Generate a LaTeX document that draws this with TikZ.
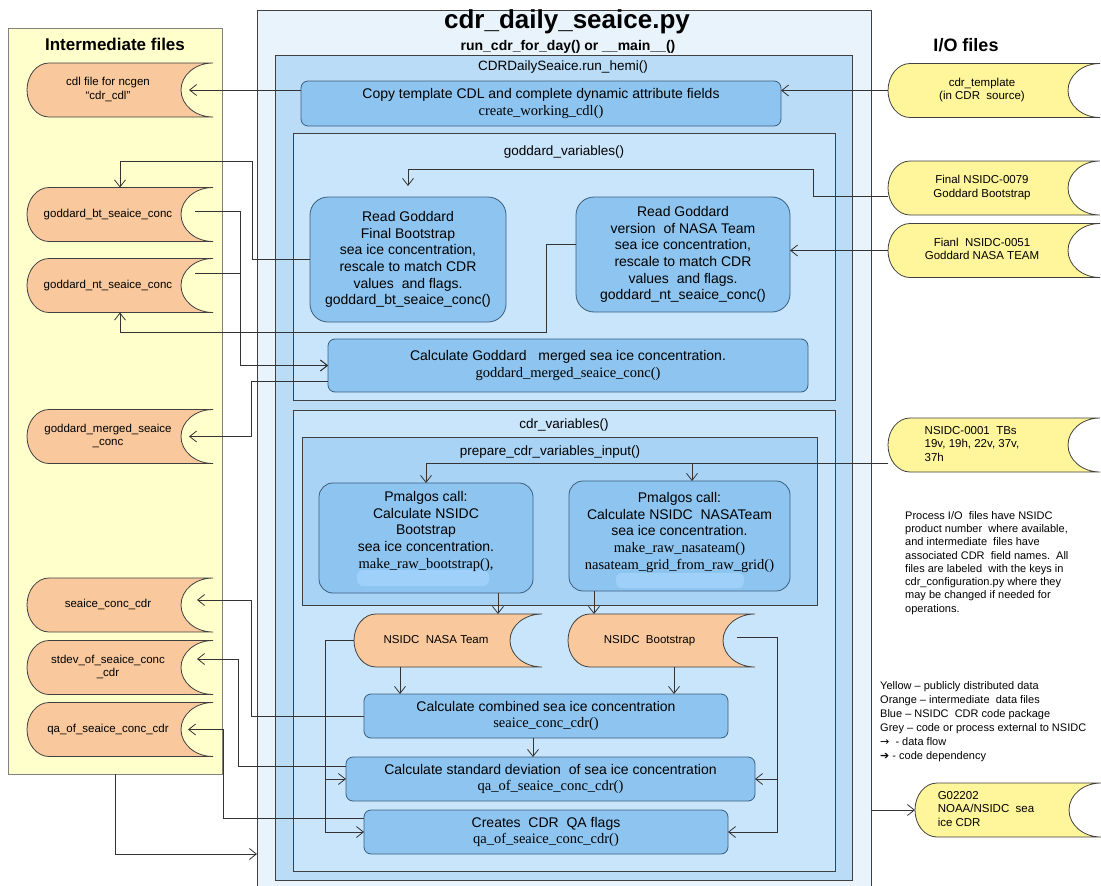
\documentclass[tikz,border=0pt]{standalone}
\usepackage{fontspec}
\setmainfont{Liberation Sans}
\newfontfamily\codefont{Liberation Serif}
\newfontfamily\symfont{DejaVu Sans}
\usetikzlibrary{arrows.meta}

\definecolor{outerblue}{HTML}{E8F3FB}
\definecolor{hemiblue}{HTML}{BADCF6}
\definecolor{groupblue}{HTML}{C9E5FB}
\definecolor{prepblue}{HTML}{A9D3F5}
\definecolor{procblue}{HTML}{8DC5F0}
\definecolor{procedge}{HTML}{3B5E7E}
\definecolor{barblue}{HTML}{9ED0FA}
\definecolor{orangefill}{HTML}{F9C99D}
\definecolor{yellowfill}{HTML}{FFF69C}
\definecolor{interfill}{HTML}{FFFFCC}
\definecolor{linegrey}{HTML}{333333}

\makeatletter
\pgfdeclareshape{storeddata}{
  \inheritsavedanchors[from=rectangle]
  \inheritanchorborder[from=rectangle]
  \inheritanchor[from=rectangle]{center}
  \inheritanchor[from=rectangle]{north}
  \inheritanchor[from=rectangle]{south}
  \inheritanchor[from=rectangle]{east}
  \inheritanchor[from=rectangle]{west}
  \inheritanchor[from=rectangle]{north east}
  \inheritanchor[from=rectangle]{north west}
  \inheritanchor[from=rectangle]{south east}
  \inheritanchor[from=rectangle]{south west}
  \backgroundpath{
    \southwest \edef\sdxa{\the\pgf@x}\edef\sdya{\the\pgf@y}
    \northeast \edef\sdxb{\the\pgf@x}\edef\sdyb{\the\pgf@y}
    \pgfmathsetmacro\sdhh{(\sdyb-\sdya)/2}
    \pgfpathmoveto{\pgfpoint{\sdxb}{\sdyb}}
    \pgfpathlineto{\pgfpoint{\sdxa+22pt}{\sdyb}}
    \pgfpatharc{90}{270}{22pt and \sdhh pt}
    \pgfpathlineto{\pgfpoint{\sdxb}{\sdya}}
    \pgfpatharc{270}{90}{32pt and \sdhh pt}
    \pgfpathclose
  }
}
\makeatother

\newcommand{\fn}[1]{{\codefont\fontsize{14.5}{17}\selectfont #1}}
\newcommand{\dtext}[1]{\begin{tabular}{@{}c@{}}#1\end{tabular}\kern24pt}
\newcommand{\dtextl}[1]{\begin{tabular}{@{}l@{}}#1\end{tabular}\kern44pt}

\tikzset{
  flow/.style={draw=linegrey, line width=0.8pt, -{Straight Barb[length=7pt,width=11pt]}},
  frame/.style={draw=black!75, line width=0.8pt, anchor=north west, inner sep=0pt, outer sep=0pt},
  boxlabel/.style={font=\fontsize{13.5}{16}\selectfont, inner sep=1pt},
  proc/.style={draw=procedge, line width=0.8pt, fill=procblue, rounded corners=7pt, align=center,
    inner sep=2pt, outer sep=0pt, font=\fontsize{14}{16.7}\selectfont},
  bigproc/.style={proc, rounded corners=18pt},
  datafile/.style={shape=storeddata, draw=black!75, line width=0.8pt, fill=orangefill,
    minimum width=186, minimum height=54, inner sep=0pt, outer sep=0pt, font=\fontsize{11.5}{13.5}\selectfont},
  iofile/.style={datafile, fill=yellowfill, minimum width=212},
}

\begin{document}
\begin{tikzpicture}[x=1pt, y=-1pt]
  \useasboundingbox (0,0) rectangle (1101,886);
  \clip (0,0) rectangle (1101,886);

  % Riquadri
  \node[frame, fill=outerblue, minimum width=614, minimum height=890] (mainbox) at (257,10) {};
  \node[frame, fill=hemiblue, minimum width=577, minimum height=825] (hemi) at (275,55) {};
  \node[frame, fill=groupblue, minimum width=542, minimum height=267] (goddard) at (293,133) {};
  \node[frame, fill=groupblue, minimum width=542, minimum height=461] (cdrvars) at (293,410) {};
  \node[frame, fill=prepblue, minimum width=515, minimum height=168] (prep) at (302,437) {};
  \node[frame, draw=black!50, fill=interfill, minimum width=214, minimum height=746] (inter) at (8,28) {};

  % Titoli
  \node[font=\bfseries\fontsize{26}{28}\selectfont] (title) at (567,22) {cdr\_daily\_seaice.py};
  \node[font=\bfseries\fontsize{14}{16}\selectfont] (subtitle) at (568,47) {run\_cdr\_for\_day() or \_\_main\_\_()};
  \node[boxlabel] (hemilbl) at (563,67) {CDRDailySeaice.run\_hemi()};
  \node[boxlabel] (goddardlbl) at (564,152) {goddard\_variables()};
  \node[boxlabel] (cdrlbl) at (564,425) {cdr\_variables()};
  \node[boxlabel] (preplbl) at (550,452) {prepare\_cdr\_variables\_input()};
  \node[font=\bfseries\fontsize{17}{20}\selectfont] (interlbl) at (115,44) {Intermediate files};
  \node[font=\bfseries\fontsize{18}{20}\selectfont] (iolbl) at (966,45) {I/O files};

  % Processi
  \node[proc, minimum width=480, minimum height=45] (copy) at (541,103.5)
    {Copy template CDL and complete dynamic attribute fields\\\fn{create\_working\_cdl()}};
  \node[bigproc, minimum width=196, minimum height=125] (btread) at (408,259.5)
    {Read Goddard\\Final Bootstrap\\sea ice concentration,\\rescale to match CDR\\values\ \ and flags.\\goddard\_bt\_seaice\_conc()};
  \node[bigproc, minimum width=214, minimum height=115] (ntread) at (683,254.5)
    {Read Goddard\\version\ \ of NASA Team\\sea ice concentration,\\rescale to match CDR\\values\ \ and flags.\\goddard\_nt\_seaice\_conc()};
  \node[proc, minimum width=480, minimum height=53] (merged) at (568,365.5)
    {Calculate Goddard\ \ \ merged sea ice concentration.\\\fn{goddard\_merged\_seaice\_conc()}};
  \node[proc, rounded corners=14pt, minimum width=214, minimum height=110,
    path picture={\fill[barblue, rounded corners=6pt]
      ([xshift=-69pt,yshift=-32pt]path picture bounding box.center) rectangle
      ([xshift=63pt,yshift=-48pt]path picture bounding box.center);}] (pmbt) at (426,538)
    {Pmalgos call:\\Calculate NSIDC\\Bootstrap\\sea ice concentration.\\\fn{make\_raw\_bootstrap(),}\\\mbox{}};
  \node[proc, rounded corners=14pt, minimum width=221, minimum height=110,
    path picture={\fill[barblue, rounded corners=6pt]
      ([xshift=-63.5pt,yshift=-37pt]path picture bounding box.center) rectangle
      ([xshift=64.5pt,yshift=-52pt]path picture bounding box.center);}] (pmnt) at (679.5,536)
    {Pmalgos call:\\Calculate NSIDC\ \ NASATeam\\sea ice concentration.\\\fn{make\_raw\_nasateam()}\\\fn{nasateam\_grid\_from\_raw\_grid()}\\[-6pt]\mbox{}};
  \node[proc, minimum width=364, minimum height=44] (combined) at (546,716)
    {Calculate combined sea ice concentration\\\fn{seaice\_conc\_cdr()}};
  \node[proc, minimum width=409, minimum height=44] (stddev) at (550.5,779)
    {Calculate standard deviation\ \ of sea ice concentration\\\fn{qa\_of\_seaice\_conc\_cdr()}};
  \node[proc, minimum width=364, minimum height=44] (qaflags) at (546,832)
    {Creates\ \ CDR\ \ QA flags\\\fn{qa\_of\_seaice\_conc\_cdr()}};

  % File intermedi
  \node[datafile] (cdl) at (120,90) {\dtext{cdl file for ncgen\\“cdr\_cdl”}};
  \node[datafile] (gbt) at (120,214.5) {\dtext{goddard\_bt\_seaice\_conc}};
  \node[datafile] (gnt) at (120,285.5) {\dtext{goddard\_nt\_seaice\_conc}};
  \node[datafile] (gmerged) at (120,436.5) {\dtext{goddard\_merged\_seaice\\\_conc}};
  \node[datafile] (sccdr) at (120,605) {\dtext{seaice\_conc\_cdr}};
  \node[datafile] (stdev) at (120,667.5) {\dtext{stdev\_of\_seaice\_conc\\\_cdr}};
  \node[datafile] (qaof) at (120,729.5) {\dtext{qa\_of\_seaice\_conc\_cdr}};
  \node[datafile, minimum width=188, minimum height=53] (nsnt) at (448,640.5) {\dtext{NSIDC\ \ NASA Team}};
  \node[datafile, minimum width=187, minimum height=53] (nsbt) at (661.5,640.5) {\dtext{NSIDC\ \ Bootstrap}};

  % File I/O
  \node[iofile] (iotemplate) at (994,90.5) {\dtext{cdr\_template\\(in CDR\ \ source)}};
  \node[iofile] (io0079) at (994,188) {\dtext{Final NSIDC-0079\\Goddard Bootstrap}};
  \node[iofile] (io0051) at (994,250.5) {\dtext{Fianl\ \ NSIDC-0051\\Goddard NASA TEAM}};
  \node[iofile] (io0001) at (994,445) {\dtextl{NSIDC-0001\ \ TBs\\19v, 19h, 22v, 37v,\\37h}};
  \node[iofile, minimum width=186] (g02202) at (1008,810) {\dtextl{G02202\\NOAA/NSIDC\ \ sea\\ice CDR}};

  % Note e legenda
  \node[anchor=north west, align=left, inner sep=0pt, font=\fontsize{11}{13.3}\selectfont] (notes) at (905,511)
    {Process I/O\ \ files have NSIDC\\product number\ \ where available,\\and intermediate\ \ files have\\associated CDR\ \ field names.\ \ All\\files are labeled\ \ with the keys in\\cdr\_configuration.py where they\\may be changed if needed for\\operations.};
  \node[anchor=north west, align=left, inner sep=0pt, font=\fontsize{11}{14}\selectfont] (legend) at (880,681)
    {Yellow – publicly distributed data\\Orange – intermediate\ \ data files\\Blue – NSIDC\ \ CDR code package\\Grey – code or process external to NSIDC\\{\symfont →}\ \ - data flow\\{\symfont ➔} - code dependency};

  \coordinate (codein) at (257,854);

  % Frecce
  \draw[flow] (iotemplate.west) -- (iotemplate.west -| copy.east);
  \draw[flow] (cdl.center -| copy.west) -- ([xshift=-24pt]cdl.east);
  \draw[flow, shorten >=11pt] ([yshift=-8pt]io0079.west) -| (813,169) -| (btread.north);
  \draw[flow] (btread.west) -| (252,161) -| (gbt.north);
  \draw[flow] ([xshift=-18pt,yshift=3pt]gbt.east) -- ++(45,0) |- (merged.west);
  \draw[flow] ([xshift=-18pt,yshift=12pt]gnt.east) -- ++(45,0) |- (merged.west);
  \draw[flow] ([yshift=10pt]ntread.west) -| (546,332) -| (gnt.south);
  \draw[flow] (io0051.west) -- (io0051.west -| ntread.east);
  \draw[flow] ([yshift=-16pt]merged.west) -- ++(-77,0) |- ([xshift=-24pt]gmerged.east);
  \draw[flow] ([yshift=-18pt]io0001.west) -| (pmbt.north);
  \draw[flow] ([yshift=-18pt]io0001.west) -| ([xshift=12.5pt]pmnt.north);
  \draw[flow] ([xshift=72pt]pmbt.south) -- ([xshift=72pt]pmbt.south |- nsnt.north);
  \draw[flow] ([xshift=-85.5pt]pmnt.south) -- ([xshift=-85.5pt]pmnt.south |- nsbt.north);
  \draw[flow] ([xshift=-48pt]nsnt.south) -- ([xshift=-48pt]nsnt.south |- combined.north);
  \draw[flow] ([xshift=12.5pt]nsbt.south) -- ([xshift=12.5pt]nsbt.south |- combined.north);
  \draw[flow] (nsnt.west) -- ++(-29,0) |- (stddev.west);
  \draw[flow] (nsnt.west) -- ++(-29,0) |- (qaflags.west);
  \draw[flow] ([xshift=-18pt,yshift=3pt]nsbt.east) -- ++(40,0) |- (stddev.east);
  \draw[flow] ([xshift=-18pt,yshift=3pt]nsbt.east) -- ++(40,0) |- (qaflags.east);
  \draw[flow] ([xshift=-13pt]combined.south) -- ([xshift=-13pt]combined.south |- stddev.north);
  \draw[flow] (combined.west) -- ++(-113,0) |- ([xshift=-16pt,yshift=5pt]sccdr.east);
  \draw[flow] ([yshift=13pt]stddev.west) -- ++(-108,0) |- ([xshift=-16pt,yshift=8.5pt]stdev.east);
  \draw[flow] ([yshift=14pt]qaflags.west) -- ++(-141,0) |- ([xshift=-25pt]qaof.east);
  \draw[flow] (inter.south) |- (codein);
  \draw[flow] (g02202.west -| mainbox.east) -- (g02202.west);
\end{tikzpicture}
\end{document}
